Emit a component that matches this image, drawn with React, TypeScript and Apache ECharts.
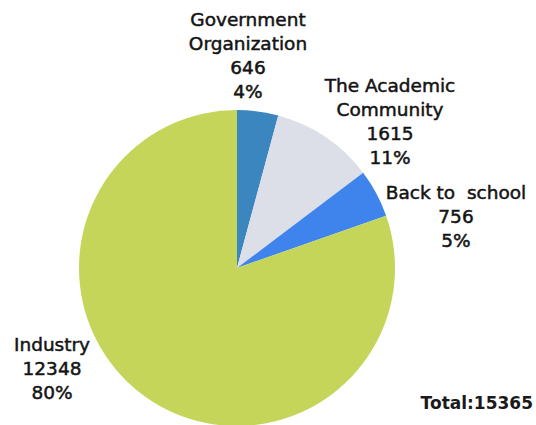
import React, { useEffect, useRef } from "react";
import * as echarts from "echarts";

const categories = ["Government\nOrganization", "The Academic\nCommunity", "Back to  school", "Industry"];
const values = [646, 1615, 756, 12348];
const colors = ["#3b86bf", "#dcdee8", "#3f84ec", "#c4d55a"];
const labelCenters: [number, number][] = [
  [248, 55],
  [390, 121],
  [456, 216],
  [52, 368],
];

export default function App() {
  const ref = useRef<HTMLDivElement>(null);
  useEffect(() => {
    if (!ref.current) return;
    const chart = echarts.init(ref.current, null, { renderer: "svg" });
    const total = values.reduce((a, b) => a + b, 0);
    chart.setOption({
      animation: false,
      backgroundColor: "#ffffff",
      series: [
        {
          type: "pie",
          center: [237, 268],
          radius: [0, 158],
          startAngle: 90,
          clockwise: true,
          percentPrecision: 0,
          silent: true,
          data: categories.map((name, i) => ({
            name,
            value: values[i],
            itemStyle: { color: colors[i] },
          })),
          label: {
            show: true,
            formatter: "{b}\n{c}\n{d}%",
            color: "#141414",
            fontFamily: "DejaVu Sans",
            fontSize: 18.5,
            lineHeight: 24,
            align: "center",
            overflow: "none",
            textBorderColor: "#141414",
            textBorderWidth: 0.5,
          },
          labelLine: { show: false },
          labelLayout: (params: any) => {
            const p = labelCenters[params.dataIndex];
            return { x: p[0], y: p[1], align: "center", verticalAlign: "middle" };
          },
        },
      ],
      graphic: [
        {
          type: "text",
          right: 3,
          top: 394,
          style: {
            text: "Total:" + total,
            fontFamily: "DejaVu Sans",
            fontWeight: "bold",
            fontSize: 17,
            fill: "#1a1a1a",
          },
        },
      ],
    });
    return () => chart.dispose();
  }, []);
  return (
    <div
      ref={ref}
      style={{ position: "fixed", left: 0, top: 0, width: 536, height: 425 }}
    />
  );
}
